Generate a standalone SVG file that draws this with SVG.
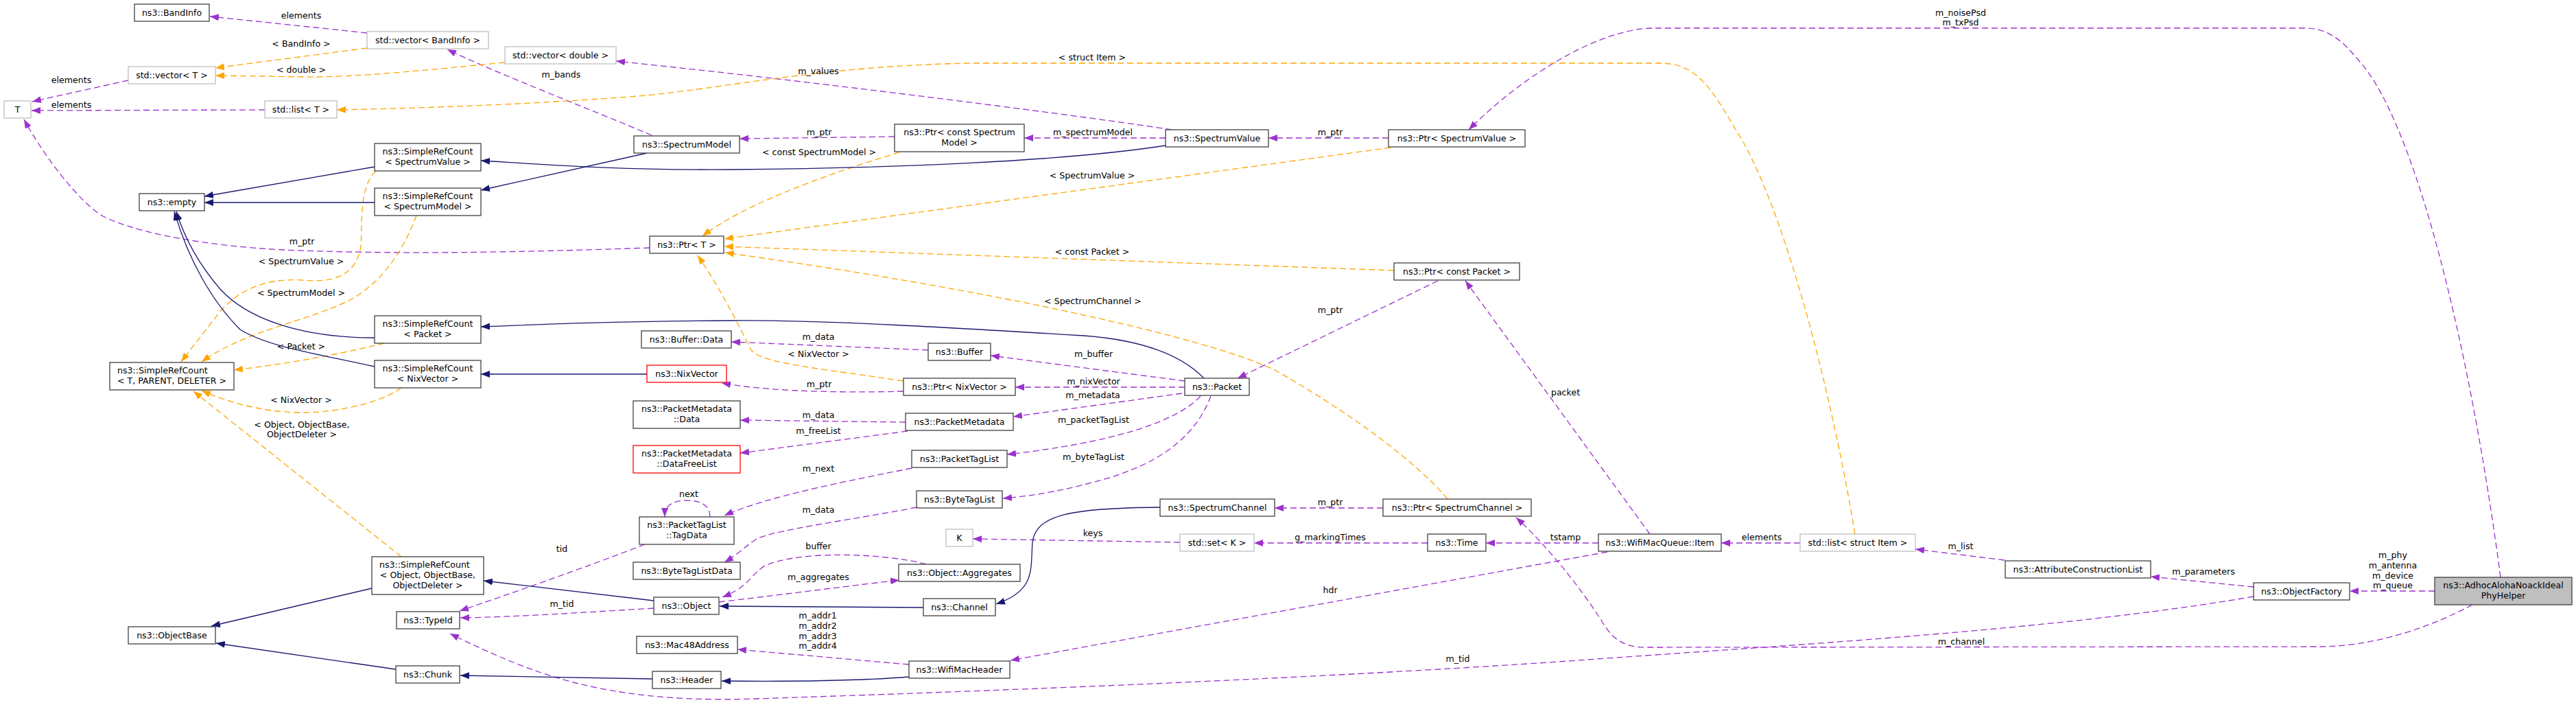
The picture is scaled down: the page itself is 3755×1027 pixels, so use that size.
<svg xmlns="http://www.w3.org/2000/svg" width="3755" height="1027" viewBox="0 0 3755 1027">
<style>
text{font-family:"DejaVu Sans","Liberation Sans",sans-serif;font-size:12.6px;fill:#000;text-anchor:middle}
text.l{text-anchor:start}
.n rect{fill:#fff;stroke:#404040;stroke-width:1.3}
.g rect{stroke:#bfbfbf}
.r rect{stroke:#ff0000}
.m rect{fill:#bfbfbf}
#edges path{fill:none;stroke-width:1.3}
#edges .u{stroke:#9a32cd;stroke-dasharray:9,5;marker-end:url(#au)}
#edges .t{stroke:#ffa500;stroke-dasharray:9,5;marker-end:url(#at)}
#edges .i{stroke:#191970;marker-end:url(#ai)}
</style>
<defs>
<marker id="au" markerUnits="userSpaceOnUse" markerWidth="13" markerHeight="10" refX="13" refY="5" orient="auto" viewBox="0 0 13 10"><path d="M0,0 L13,5 L0,10 z" fill="#9a32cd"/></marker>
<marker id="at" markerUnits="userSpaceOnUse" markerWidth="13" markerHeight="10" refX="13" refY="5" orient="auto" viewBox="0 0 13 10"><path d="M0,0 L13,5 L0,10 z" fill="#ffa500"/></marker>
<marker id="ai" markerUnits="userSpaceOnUse" markerWidth="13" markerHeight="10" refX="13" refY="5" orient="auto" viewBox="0 0 13 10"><path d="M0,0 L13,5 L0,10 z" fill="#191970"/></marker>
</defs>
<rect x="0" y="0" width="3755" height="1027" fill="#fff"/>
<g id="edges">
<path class="u" d="M535,48 L306,24"/>
<path class="u" d="M187,117 L47,148"/>
<path class="u" d="M386,160 L46,161"/>
<path class="u" d="M947,361 C800,366 600,372 413,364 C300,358 200,340 150,315 C110,290 60,220 35,174"/>
<path class="u" d="M950,197 C850,155 720,105 652,72"/>
<path class="u" d="M1708,189 C1600,172 1200,120 898,89"/>
<path class="u" d="M1304,199 L1078,202"/>
<path class="u" d="M1699,201 L1493,201"/>
<path class="u" d="M2024,201 L1849,201"/>
<path class="u" d="M3645,841 C3600,500 3520,180 3440,90 C3415,60 3395,41 3360,41 L2410,41 C2340,41 2230,100 2141,189"/>
<path class="u" d="M2405,778 L2136,409"/>
<path class="u" d="M2096,409 L1804,551"/>
<path class="u" d="M1353,510 L1066,498"/>
<path class="u" d="M1727,555 L1444,518"/>
<path class="u" d="M1317,570 C1250,572 1130,572 1052,558"/>
<path class="u" d="M1727,564 L1480,564"/>
<path class="u" d="M1723,573 L1477,607"/>
<path class="u" d="M1320,615 L1079,612"/>
<path class="u" d="M1323,628 L1079,660"/>
<path class="u" d="M1750,577 C1715,615 1620,645 1468,662"/>
<path class="u" d="M1765,577 C1745,630 1700,670 1620,695 C1560,713 1510,722 1462,726"/>
<path class="u" d="M1329,682 C1250,698 1120,722 1056,751"/>
<path class="u" d="M1035,753 C1035,735 1020,729 1001,729 C982,729 969,735 969,753"/>
<path class="u" d="M1336,739 C1250,756 1140,770 1105,784 C1090,792 1080,805 1056,819"/>
<path class="u" d="M1350,822 C1300,808 1180,800 1120,822 C1095,832 1098,852 1053,870"/>
<path class="u" d="M1048,877 C1150,865 1250,852 1311,845"/>
<path class="u" d="M953,886 C850,892 750,899 671,900"/>
<path class="u" d="M940,793 C850,828 740,866 670,890"/>
<path class="u" d="M3285,869 C3000,918 2600,940 2300,962 C1900,990 1400,1008 1100,1018 C980,1022 900,1010 840,995 C780,980 720,955 656,923"/>
<path class="u" d="M1325,968 L1075,946"/>
<path class="u" d="M2343,804 L1473,962"/>
<path class="u" d="M3604,881 C3540,915 3460,942 3379,942 L2400,943 C2365,943 2350,930 2335,905 C2300,850 2250,790 2210,754"/>
<path class="u" d="M2016,740 L1858,740"/>
<path class="u" d="M1720,790 L1418,785"/>
<path class="u" d="M2081,791 L1828,791"/>
<path class="u" d="M2330,791 L2166,791"/>
<path class="u" d="M2624,791 L2509,791"/>
<path class="u" d="M2922,816 L2792,800"/>
<path class="u" d="M3285,855 L3135,840"/>
<path class="u" d="M3549,861 L3425,861"/>
<path class="t" d="M535,70 L314,99"/>
<path class="t" d="M736,91 C620,102 520,113 440,112 L314,110"/>
<path class="t" d="M2704,778 C2675,600 2610,330 2540,205 C2500,140 2480,92 2420,92 L1420,92 C1200,95 1050,130 930,140 C800,150 650,157 491,160"/>
<path class="t" d="M548,249 C520,275 530,340 525,365 C515,405 480,412 440,408 C390,405 350,420 320,455 L264,527"/>
<path class="t" d="M607,314 C590,360 560,410 510,437 C450,468 360,480 294,527"/>
<path class="t" d="M560,500 C500,515 420,530 341,539"/>
<path class="t" d="M585,565 C550,590 480,602 436,601 C380,600 330,585 294,569"/>
<path class="t" d="M585,811 L282,570"/>
<path class="t" d="M1311,222 C1200,255 1080,300 1024,344"/>
<path class="t" d="M2027,215 L1056,348"/>
<path class="t" d="M2032,394 L1056,359"/>
<path class="t" d="M2110,727 C2080,690 2000,620 1860,540 C1780,500 1500,430 1057,368"/>
<path class="t" d="M1317,555 C1200,537 1110,530 1095,510 C1080,480 1050,420 1017,372"/>
<path class="i" d="M546,243 L298,286"/>
<path class="i" d="M546,295 L298,295"/>
<path class="i" d="M546,492 C440,492 360,465 320,420 C290,385 270,350 257,308"/>
<path class="i" d="M546,534 C460,515 390,505 350,480 C310,440 275,380 254,308"/>
<path class="i" d="M1699,212 C1550,235 1300,245 1067,247 C900,248 800,240 701,234"/>
<path class="i" d="M943,223 L701,277"/>
<path class="i" d="M1755,551 C1720,515 1660,495 1580,489 C1400,478 1200,466 1067,467 C900,468 800,472 701,476"/>
<path class="i" d="M943,545 L701,545"/>
<path class="i" d="M542,857 L308,912"/>
<path class="i" d="M953,875 L705,846"/>
<path class="i" d="M577,975 L315,937"/>
<path class="i" d="M951,989 C850,987 750,985 671,984"/>
<path class="i" d="M1325,986 C1250,992 1150,993 1052,992"/>
<path class="i" d="M1346,885 L1049,883"/>
<path class="i" d="M1691,739 C1560,740 1510,750 1505,790 C1502,830 1510,860 1452,880"/>
</g>
<g id="edge-labels">
<text x="439" y="27">elements</text>
<text x="439" y="68">&lt; BandInfo &gt;</text>
<text x="104" y="121">elements</text>
<text x="104" y="157">elements</text>
<text x="439" y="106">&lt; double &gt;</text>
<text x="818" y="113">m_bands</text>
<text x="1193" y="108">m_values</text>
<text x="1194" y="197">m_ptr</text>
<text x="1194" y="226">&lt; const SpectrumModel &gt;</text>
<text x="1593" y="197">m_spectrumModel</text>
<text x="1939" y="197">m_ptr</text>
<text x="1592" y="88">&lt; struct Item &gt;</text>
<text x="2858" y="23">m_noisePsd</text>
<text x="2858" y="37">m_txPsd</text>
<text x="1592" y="260">&lt; SpectrumValue &gt;</text>
<text x="440" y="356">m_ptr</text>
<text x="439" y="385">&lt; SpectrumValue &gt;</text>
<text x="439" y="431">&lt; SpectrumModel &gt;</text>
<text x="439" y="509">&lt; Packet &gt;</text>
<text x="439" y="587">&lt; NixVector &gt;</text>
<text x="440" y="623">&lt; Object, ObjectBase,</text>
<text x="440" y="637">ObjectDeleter &gt;</text>
<text x="1592" y="371">&lt; const Packet &gt;</text>
<text x="1593" y="443">&lt; SpectrumChannel &gt;</text>
<text x="1939" y="456">m_ptr</text>
<text x="1193" y="495">m_data</text>
<text x="1193" y="520">&lt; NixVector &gt;</text>
<text x="1594" y="520">m_buffer</text>
<text x="1194" y="564">m_ptr</text>
<text x="1594" y="560">m_nixVector</text>
<text x="1593" y="580">m_metadata</text>
<text x="1193" y="609">m_data</text>
<text x="1193" y="632">m_freeList</text>
<text x="1594" y="616">m_packetTagList</text>
<text x="1594" y="670">m_byteTagList</text>
<text x="1193" y="687">m_next</text>
<text x="1004" y="724">next</text>
<text x="1193" y="747">m_data</text>
<text x="1193" y="800">buffer</text>
<text x="1193" y="845">m_aggregates</text>
<text x="819" y="804">tid</text>
<text x="819" y="884">m_tid</text>
<text x="1192" y="901">m_addr1</text>
<text x="1192" y="916">m_addr2</text>
<text x="1192" y="931">m_addr3</text>
<text x="1192" y="945">m_addr4</text>
<text x="2282" y="576">packet</text>
<text x="1939" y="736">m_ptr</text>
<text x="1593" y="781">keys</text>
<text x="1939" y="787">g_markingTimes</text>
<text x="2282" y="787">tstamp</text>
<text x="2568" y="787">elements</text>
<text x="1939" y="864">hdr</text>
<text x="2125" y="964">m_tid</text>
<text x="2859" y="939">m_channel</text>
<text x="2858" y="800">m_list</text>
<text x="3212" y="837">m_parameters</text>
<text x="3488" y="813">m_phy</text>
<text x="3488" y="828">m_antenna</text>
<text x="3488" y="843">m_device</text>
<text x="3488" y="857">m_queue</text>
</g>
<g id="n_bandinfo" class="n"><rect x="196" y="6" width="109" height="25"/><text x="250.5" y="22.5">ns3::BandInfo</text></g>
<g id="n_vector_bandinfo" class="n g"><rect x="535" y="46" width="177" height="25"/><text x="623.5" y="62.5">std::vector&lt; BandInfo &gt;</text></g>
<g id="n_vector_T" class="n g"><rect x="187" y="97" width="127" height="25"/><text x="250.5" y="113.5">std::vector&lt; T &gt;</text></g>
<g id="n_T" class="n g"><rect x="6" y="147" width="39" height="25"/><text x="25.5" y="163.5">T</text></g>
<g id="n_list_T" class="n g"><rect x="386" y="147" width="105" height="25"/><text x="438.5" y="163.5">std::list&lt; T &gt;</text></g>
<g id="n_vector_double" class="n g"><rect x="736" y="68" width="162" height="25"/><text x="817" y="84.5">std::vector&lt; double &gt;</text></g>
<g id="n_src_spectrumvalue" class="n"><rect x="546" y="209" width="155" height="40"/><text x="623.5" y="225">ns3::SimpleRefCount</text><text x="623.5" y="240">&lt; SpectrumValue &gt;</text></g>
<g id="n_empty" class="n"><rect x="203" y="282" width="95" height="25"/><text x="250.5" y="298.5">ns3::empty</text></g>
<g id="n_src_spectrummodel" class="n"><rect x="546" y="274" width="155" height="40"/><text x="623.5" y="290">ns3::SimpleRefCount</text><text x="623.5" y="305">&lt; SpectrumModel &gt;</text></g>
<g id="n_src_packet" class="n"><rect x="546" y="460" width="155" height="40"/><text x="623.5" y="476">ns3::SimpleRefCount</text><text x="623.5" y="491">&lt; Packet &gt;</text></g>
<g id="n_src_tpd" class="n"><rect x="160" y="528" width="181" height="40"/><text class="l" x="171" y="544">ns3::SimpleRefCount</text><text x="250.5" y="559">&lt; T, PARENT, DELETER &gt;</text></g>
<g id="n_src_nixvector" class="n"><rect x="546" y="525" width="155" height="40"/><text x="623.5" y="541">ns3::SimpleRefCount</text><text x="623.5" y="556">&lt; NixVector &gt;</text></g>
<g id="n_src_object" class="n"><rect x="542" y="811" width="163" height="55"/><text class="l" x="553" y="827">ns3::SimpleRefCount</text><text x="623.5" y="842">&lt; Object, ObjectBase,</text><text x="623.5" y="857">ObjectDeleter &gt;</text></g>
<g id="n_typeid" class="n"><rect x="578" y="891" width="92" height="25"/><text x="624" y="907.5">ns3::TypeId</text></g>
<g id="n_objectbase" class="n"><rect x="187" y="913" width="127" height="25"/><text x="250.5" y="929.5">ns3::ObjectBase</text></g>
<g id="n_chunk" class="n"><rect x="577" y="970" width="93" height="25"/><text x="623.5" y="986.5">ns3::Chunk</text></g>
<g id="n_spectrummodel" class="n"><rect x="924" y="198" width="154" height="25"/><text x="1001" y="214.5">ns3::SpectrumModel</text></g>
<g id="n_ptr_const_spectrummodel" class="n"><rect x="1304" y="181" width="189" height="40"/><text x="1398.5" y="197">ns3::Ptr&lt; const Spectrum</text><text x="1398.5" y="212">Model &gt;</text></g>
<g id="n_ptr_T" class="n"><rect x="947" y="344" width="108" height="25"/><text x="1001" y="360.5">ns3::Ptr&lt; T &gt;</text></g>
<g id="n_buffer_data" class="n"><rect x="935" y="482" width="131" height="25"/><text x="1000.5" y="498.5">ns3::Buffer::Data</text></g>
<g id="n_buffer" class="n"><rect x="1353" y="500" width="91" height="25"/><text x="1398.5" y="516.5">ns3::Buffer</text></g>
<g id="n_nixvector" class="n r"><rect x="943" y="532" width="116" height="25"/><text x="1001" y="548.5">ns3::NixVector</text></g>
<g id="n_pm_data" class="n"><rect x="923" y="584" width="156" height="40"/><text x="1001" y="600">ns3::PacketMetadata</text><text x="1001" y="615">::Data</text></g>
<g id="n_pm_freelist" class="n r"><rect x="923" y="649" width="156" height="40"/><text x="1001" y="665">ns3::PacketMetadata</text><text x="1001" y="680">::DataFreeList</text></g>
<g id="n_tagdata" class="n"><rect x="932" y="753" width="138" height="40"/><text x="1001" y="769">ns3::PacketTagList</text><text x="1001" y="784">::TagData</text></g>
<g id="n_bytetaglistdata" class="n"><rect x="923" y="819" width="156" height="25"/><text x="1001" y="835.5">ns3::ByteTagListData</text></g>
<g id="n_object" class="n"><rect x="953" y="870" width="95" height="25"/><text x="1000.5" y="886.5">ns3::Object</text></g>
<g id="n_mac48" class="n"><rect x="928" y="927" width="147" height="25"/><text x="1001.5" y="943.5">ns3::Mac48Address</text></g>
<g id="n_header" class="n"><rect x="951" y="978" width="100" height="25"/><text x="1001" y="994.5">ns3::Header</text></g>
<g id="n_ptr_nixvector" class="n"><rect x="1317" y="551" width="163" height="25"/><text x="1398.5" y="567.5">ns3::Ptr&lt; NixVector &gt;</text></g>
<g id="n_packetmetadata" class="n"><rect x="1320" y="602" width="157" height="25"/><text x="1398.5" y="618.5">ns3::PacketMetadata</text></g>
<g id="n_packettaglist" class="n"><rect x="1329" y="656" width="139" height="25"/><text x="1398.5" y="672.5">ns3::PacketTagList</text></g>
<g id="n_bytetaglist" class="n"><rect x="1336" y="715" width="125" height="25"/><text x="1398.5" y="731.5">ns3::ByteTagList</text></g>
<g id="n_K" class="n g"><rect x="1379" y="771" width="39" height="25"/><text x="1398.5" y="787.5">K</text></g>
<g id="n_aggregates" class="n"><rect x="1310" y="822" width="177" height="25"/><text x="1398.5" y="838.5">ns3::Object::Aggregates</text></g>
<g id="n_channel" class="n"><rect x="1346" y="872" width="105" height="25"/><text x="1398.5" y="888.5">ns3::Channel</text></g>
<g id="n_wifimacheader" class="n"><rect x="1325" y="963" width="147" height="25"/><text x="1398.5" y="979.5">ns3::WifiMacHeader</text></g>
<g id="n_spectrumvalue" class="n"><rect x="1699" y="189" width="150" height="25"/><text x="1774" y="205.5">ns3::SpectrumValue</text></g>
<g id="n_ptr_spectrumvalue" class="n"><rect x="2024" y="189" width="199" height="25"/><text x="2123.5" y="205.5">ns3::Ptr&lt; SpectrumValue &gt;</text></g>
<g id="n_ptr_const_packet" class="n"><rect x="2032" y="383" width="183" height="25"/><text x="2123.5" y="399.5">ns3::Ptr&lt; const Packet &gt;</text></g>
<g id="n_packet" class="n"><rect x="1727" y="551" width="94" height="25"/><text x="1774" y="567.5">ns3::Packet</text></g>
<g id="n_spectrumchannel" class="n"><rect x="1691" y="727" width="167" height="25"/><text x="1774.5" y="743.5">ns3::SpectrumChannel</text></g>
<g id="n_set_K" class="n g"><rect x="1720" y="778" width="108" height="25"/><text x="1774" y="794.5">std::set&lt; K &gt;</text></g>
<g id="n_time" class="n"><rect x="2081" y="778" width="85" height="25"/><text x="2123.5" y="794.5">ns3::Time</text></g>
<g id="n_ptr_spectrumchannel" class="n"><rect x="2016" y="727" width="216" height="25"/><text x="2124" y="743.5">ns3::Ptr&lt; SpectrumChannel &gt;</text></g>
<g id="n_item" class="n"><rect x="2330" y="778" width="179" height="25"/><text x="2419.5" y="794.5">ns3::WifiMacQueue::Item</text></g>
<g id="n_list_item" class="n g"><rect x="2624" y="778" width="168" height="25"/><text x="2708" y="794.5">std::list&lt; struct Item &gt;</text></g>
<g id="n_acl" class="n"><rect x="2923" y="817" width="212" height="25"/><text x="3029" y="833.5">ns3::AttributeConstructionList</text></g>
<g id="n_objectfactory" class="n"><rect x="3285" y="849" width="140" height="25"/><text x="3355" y="865.5">ns3::ObjectFactory</text></g>
<g id="n_main" class="n m"><rect x="3549" y="841" width="200" height="40"/><text x="3649" y="857">ns3::AdhocAlohaNoackIdeal</text><text x="3649" y="872">PhyHelper</text></g>
</svg>
